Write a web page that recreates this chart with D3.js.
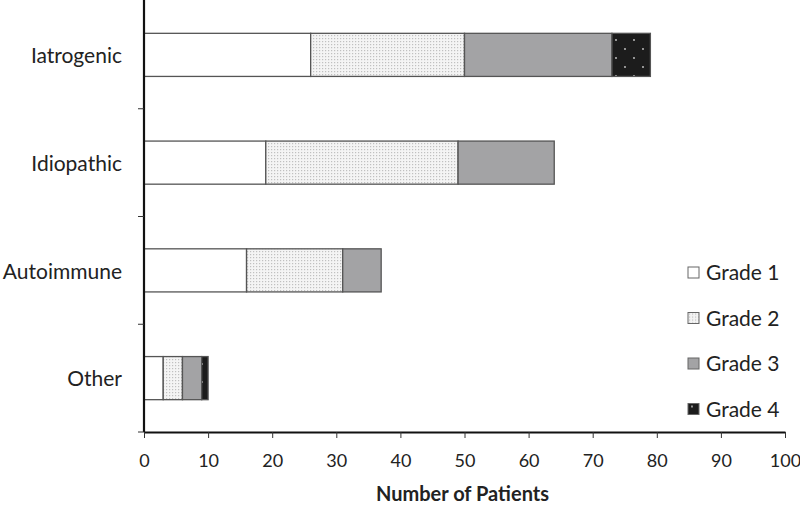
<!DOCTYPE html>
<html>
<head>
<meta charset="utf-8">
<script src="https://cdn.jsdelivr.net/npm/d3@7"></script>
<style>
  body { margin: 0; background: #fff; }
  text { font-family: Lato, "Open Sans", sans-serif; fill: #222; }
</style>
</head>
<body>
<div id="chart"></div>
<script>
// categories from top to bottom
const categories = ["Iatrogenic", "Idiopathic", "Autoimmune", "Other"];
const grades = ["Grade 1", "Grade 2", "Grade 3", "Grade 4"];
const grade1 = [26, 19, 16, 3];
const grade2 = [24, 30, 15, 3];
const grade3 = [23, 15, 6, 3];
const grade4 = [6, 0, 0, 1];
const xTicks = [0, 10, 20, 30, 40, 50, 60, 70, 80, 90, 100];

const width = 800, height = 506;
const margin = { top: 1, right: 15, bottom: 74, left: 144 };
const innerW = width - margin.left - margin.right;
const innerH = height - margin.top - margin.bottom;

const rows = categories.map((c, i) => ({
    cat: c, "Grade 1": grade1[i], "Grade 2": grade2[i], "Grade 3": grade3[i], "Grade 4": grade4[i]
}));
const series = d3.stack().keys(grades)(rows);

const svg = d3.select("#chart").append("svg")
    .attr("width", width)
    .attr("height", height);

const defs = svg.append("defs");
const p2 = defs.append("pattern").attr("id", "pat2")
    .attr("patternUnits", "userSpaceOnUse").attr("width", 3).attr("height", 3);
p2.append("rect").attr("width", 3).attr("height", 3).attr("fill", "#f4f4f4");
p2.append("rect").attr("x", 1).attr("y", 1).attr("width", 1.2).attr("height", 1.2).attr("fill", "#c0c0c0");

const p4 = defs.append("pattern").attr("id", "pat4")
    .attr("patternUnits", "userSpaceOnUse").attr("width", 18).attr("height", 18);
p4.append("rect").attr("width", 18).attr("height", 18).attr("fill", "#1c1c1c");
p4.append("circle").attr("cx", 4).attr("cy", 3).attr("r", 0.9).attr("fill", "#ccc");
p4.append("circle").attr("cx", 13).attr("cy", 12).attr("r", 0.9).attr("fill", "#ccc");

const fills = { "Grade 1": "#ffffff", "Grade 2": "url(#pat2)", "Grade 3": "#a3a3a5", "Grade 4": "url(#pat4)" };

const g = svg.append("g").attr("transform", `translate(${margin.left},${margin.top})`);

const x = d3.scaleLinear().domain([0, 100]).range([0, innerW]);
const y = d3.scaleBand().domain(categories).range([0, innerH]).paddingInner(0.6).paddingOuter(0.3);

series.forEach(s => {
    g.selectAll(".bar-" + s.index)
        .data(s.filter(d => d[1] > d[0]))
        .enter()
        .append("rect")
        .attr("x", d => x(d[0]))
        .attr("y", d => y(d.data.cat))
        .attr("width", d => x(d[1]) - x(d[0]))
        .attr("height", y.bandwidth())
        .attr("fill", fills[s.key])
        .attr("stroke", "#555")
        .attr("stroke-width", 1.3);
});

// x axis
const xAxis = g.append("g")
    .attr("transform", `translate(0,${innerH})`)
    .call(d3.axisBottom(x).tickValues(xTicks).tickSize(6).tickPadding(16).tickSizeOuter(0));
xAxis.select(".domain").attr("stroke", "#111").attr("stroke-width", 2.2);
xAxis.selectAll(".tick line").attr("stroke", "#333");
xAxis.selectAll("text").style("font-size", "18px").attr("fill", "#222");

// y axis: ticks at band boundaries
const bandEdges = d3.range(categories.length + 1).map(i => i * innerH / categories.length);
const yAxis = g.append("g");
yAxis.append("line")
    .attr("x1", 0).attr("x2", 0).attr("y1", -margin.top).attr("y2", innerH)
    .attr("stroke", "#111").attr("stroke-width", 2.2);
yAxis.selectAll(".ytick")
    .data(bandEdges.slice(1))
    .enter()
    .append("line")
    .attr("x1", -6).attr("x2", 0)
    .attr("y1", d => d).attr("y2", d => d)
    .attr("stroke", "#333");
yAxis.selectAll(".ylabel")
    .data(categories)
    .enter()
    .append("text")
    .attr("x", -22)
    .attr("y", d => y(d) + y.bandwidth() / 2 + 1)
    .attr("dy", "0.35em")
    .attr("text-anchor", "end")
    .style("font-size", "21px")
    .text(d => d);

// axis title
svg.append("text")
    .attr("x", margin.left + x(50) - 2)
    .attr("y", 501)
    .attr("text-anchor", "middle")
    .style("font-size", "20px")
    .style("font-weight", "bold")
    .text("Number of Patients");

// legend
const legend = svg.append("g").attr("transform", "translate(688,267)");
const leg = legend.selectAll(".leg")
    .data(grades)
    .enter()
    .append("g")
    .attr("transform", (d, i) => `translate(0,${i * 45.5})`);
leg.append("rect")
    .attr("width", 11).attr("height", 11)
    .attr("fill", d => fills[d])
    .attr("stroke", "#666")
    .attr("stroke-width", 1);
leg.append("text")
    .attr("x", 18)
    .attr("y", 6)
    .attr("dy", "0.35em")
    .style("font-size", "21px")
    .text(d => d);
</script>
</body>
</html>
